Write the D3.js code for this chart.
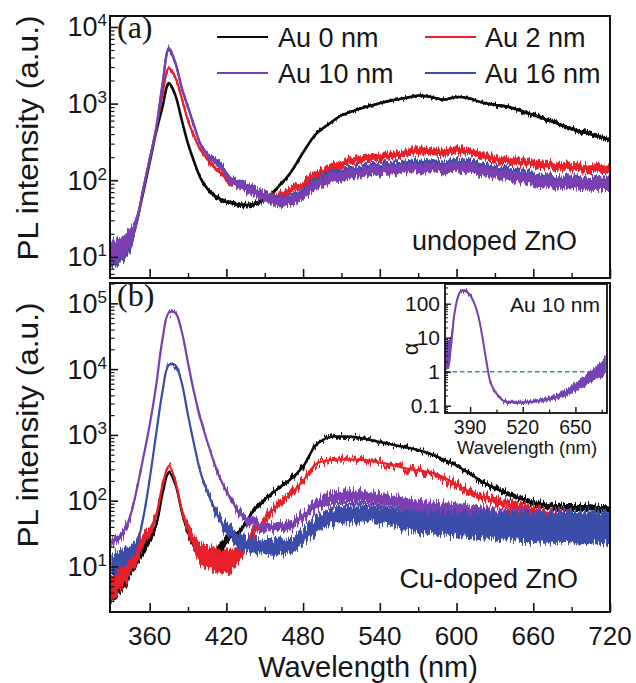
<!DOCTYPE html>
<html><head><meta charset="utf-8">
<script src="https://cdn.jsdelivr.net/npm/d3@7"></script>
<style>
body{margin:0;background:#fff}
svg{display:block}
text{font-family:"Liberation Sans",Arial,Helvetica,sans-serif;fill:#161616}
</style>
</head><body>
<svg id="c" width="636" height="683"></svg>
<script>
// ---------------- data ----------------
const wavelengths = [330,335,340,345,350,355,360,365,370,375,
  380,385,390,395,400,405,410,415,420,425,
  430,440,450,460,470,480,490,500,510,520,
  530,540,550,560,570,580,590,600,610,620,
  630,640,650,660,670,680,690,700,710,720];

// (a) undoped ZnO
const au0_a = [12,12,13,16,30,70,170,420,900,1850,
  1300,620,300,170,105,78,64,57,52,50,
  48,48,56,80,124,230,400,540,700,810,
  910,1010,1110,1180,1270,1220,1130,1220,1170,1030,
  960,910,810,710,620,540,470,420,380,335];
const au0_a_noise = [0.12,0.12,0.12,0.10,0.05,0.02,0.015,0.015,0.015,0.015,
  0.015,0.015,0.015,0.02,0.02,0.025,0.03,0.03,0.03,0.03,
  0.03,0.03,0.03,0.02,0.015,0.015,0.015,0.015,0.015,0.015,
  0.015,0.015,0.015,0.015,0.015,0.015,0.015,0.015,0.015,0.015,
  0.02,0.02,0.02,0.025,0.025,0.025,0.025,0.03,0.03,0.03];
const au2_a = [11,12,13,16,30,75,185,450,1300,2900,
  2200,1200,600,370,245,190,150,125,105,92,
  85,72,65,61,75,88,120,140,165,185,
  192,200,210,225,245,240,230,250,235,210,
  190,180,172,166,160,153,148,143,139,135];
const au2_a_noise = [0.12,0.12,0.12,0.10,0.05,0.02,0.02,0.02,0.02,0.02,
  0.025,0.025,0.025,0.025,0.025,0.03,0.03,0.03,0.035,0.035,
  0.04,0.04,0.045,0.05,0.05,0.05,0.05,0.05,0.05,0.05,
  0.05,0.05,0.05,0.05,0.05,0.05,0.05,0.05,0.05,0.05,
  0.05,0.05,0.05,0.05,0.05,0.055,0.055,0.055,0.06,0.06];
const au10_a = [12,12,14,18,30,78,190,470,1800,5300,
  3500,1650,900,500,290,220,180,150,120,98,
  86,72,60,52,54,64,88,104,115,124,
  130,135,138,142,148,146,142,150,145,132,
  124,116,108,100,96,93,92,90,88,87];
const au10_a_noise = [0.15,0.15,0.15,0.12,0.06,0.02,0.02,0.02,0.02,0.02,
  0.02,0.02,0.02,0.02,0.025,0.03,0.035,0.04,0.045,0.05,
  0.055,0.06,0.065,0.065,0.065,0.065,0.065,0.065,0.065,0.065,
  0.065,0.065,0.065,0.065,0.065,0.065,0.065,0.065,0.065,0.07,
  0.07,0.07,0.075,0.075,0.08,0.08,0.08,0.085,0.085,0.085];
const au16_a = [10,11,12,15,28,75,185,460,1700,5000,
  3400,1600,900,500,290,220,185,160,125,100,
  90,76,64,56,58,70,98,115,128,138,
  145,150,155,160,168,165,160,172,165,150,
  140,132,122,112,106,100,98,95,93,92];
const au16_a_noise = [0.14,0.14,0.14,0.10,0.05,0.02,0.02,0.02,0.02,0.02,
  0.02,0.02,0.02,0.02,0.025,0.03,0.035,0.04,0.04,0.04,
  0.045,0.05,0.05,0.055,0.055,0.055,0.055,0.055,0.055,0.055,
  0.055,0.055,0.055,0.055,0.055,0.055,0.055,0.055,0.055,0.055,
  0.06,0.06,0.06,0.06,0.065,0.065,0.07,0.07,0.07,0.07];

// (b) Cu-doped ZnO
const au0_b = [4.4,5.5,7,10,14,18,27,42,125,270,
  180,70,33,21,17,15,14,18,25,30,
  33,65,105,150,210,330,700,920,950,930,
  860,780,710,650,590,510,420,340,260,195,
  155,128,108,94,86,82,80,80,78,76];
const au0_b_noise = [0.2,0.2,0.2,0.18,0.15,0.1,0.08,0.05,0.03,0.02,
  0.03,0.04,0.08,0.1,0.12,0.12,0.12,0.1,0.08,0.06,
  0.05,0.04,0.04,0.03,0.03,0.03,0.02,0.02,0.02,0.02,
  0.02,0.02,0.02,0.02,0.02,0.02,0.025,0.025,0.03,0.03,
  0.035,0.035,0.04,0.04,0.04,0.04,0.045,0.045,0.045,0.045];
const au2_b = [4.5,6,8,11,15,24,36,60,170,340,
  200,75,36,22,16,14,13,12,12,13,
  15,30,52,85,125,200,360,410,420,420,
  410,380,350,310,290,268,225,175,135,115,
  100,90,80,72,66,62,60,58,58,58];
const au2_b_noise = [0.2,0.2,0.2,0.18,0.15,0.1,0.08,0.05,0.03,0.02,
  0.03,0.04,0.08,0.12,0.16,0.18,0.18,0.18,0.18,0.16,
  0.12,0.08,0.07,0.06,0.05,0.04,0.03,0.03,0.03,0.03,
  0.03,0.03,0.03,0.035,0.04,0.04,0.045,0.05,0.05,0.06,
  0.06,0.065,0.07,0.07,0.07,0.075,0.075,0.08,0.08,0.08];
const au10_b = [23,27,35,60,150,450,1400,5500,28000,72000,
  72000,38000,12500,4200,1700,800,400,220,140,95,
  66,47,40,39,43,58,85,105,112,114,
  112,105,96,88,80,74,70,66,62,56,
  52,50,48,46,45,44,44,43,42,42];
const au10_b_noise = [0.06,0.06,0.06,0.05,0.03,0.02,0.015,0.015,0.015,0.015,
  0.015,0.015,0.015,0.015,0.015,0.015,0.02,0.03,0.04,0.05,
  0.06,0.07,0.07,0.07,0.07,0.08,0.09,0.1,0.1,0.1,
  0.1,0.1,0.1,0.1,0.11,0.12,0.13,0.14,0.15,0.16,
  0.17,0.18,0.19,0.2,0.2,0.2,0.21,0.21,0.21,0.21];
const au16_b = [11,12,14,16,22,55,210,1000,4500,11500,
  11500,6300,2000,680,260,140,81,50,37,30,
  24,21,20,20,21,28,42,55,62,65,
  64,60,54,50,48,46,45,44,43,42,
  41,41,40,40,40,40,40,40,40,40];
const au16_b_noise = [0.15,0.15,0.15,0.12,0.08,0.03,0.02,0.015,0.015,0.015,
  0.015,0.015,0.015,0.02,0.02,0.04,0.06,0.08,0.1,0.11,
  0.12,0.12,0.12,0.12,0.12,0.12,0.13,0.13,0.13,0.13,
  0.13,0.14,0.14,0.15,0.16,0.17,0.18,0.19,0.2,0.21,
  0.22,0.22,0.23,0.23,0.24,0.24,0.25,0.25,0.25,0.25];

// inset: alpha for Au 10 nm
const inset_wl = [330,335,340,345,350,355,360,365,370,375,380,390,400,410,420,430,440,450,460,470,480,500,520,540,560,580,600,620,640,660,680,700,710,720,725];
const inset_alpha = [3,3,4,10,40,90,160,220,245,245,230,180,105,45,11,2.1,0.5,0.28,0.19,0.145,0.13,0.125,0.125,0.13,0.14,0.155,0.18,0.22,0.3,0.42,0.58,0.85,1.1,1.4,1.8];
const inset_noise = [0.45,0.45,0.4,0.25,0.1,0.05,0.04,0.04,0.04,0.04,0.04,0.04,0.04,0.04,0.04,0.04,0.04,0.04,0.04,0.045,0.05,0.05,0.05,0.055,0.06,0.07,0.08,0.1,0.12,0.14,0.17,0.2,0.22,0.25,0.28];

const seriesNames = ["Au 0 nm","Au 2 nm","Au 10 nm","Au 16 nm"];
const xTickLabels = [360,420,480,540,600,660,720];
const xMinorTicks = [390,450,510,570,630,690];
const yExpA = [1,2,3,4];
const yExpB = [1,2,3,4,5];
const insetXTicks = [390,520,650];
const insetXMinor = [455,585,715];
const insetYTicks = [0.1,1,10,100];

// ---------------- layout / style ----------------
const colors = {"Au 0 nm":"#0a0a0a","Au 2 nm":"#e8202a","Au 10 nm":"#7a40b2","Au 16 nm":"#3b4da8"};
const svg = d3.select("#c");
const defs = svg.append("defs");
const X0 = 110, X1 = 610;
const x = d3.scaleLinear().domain([329,720]).range([X0,X1]);
const yA = d3.scaleLog().domain([5.3,13900]).range([278,16]);
const yB = d3.scaleLog().domain([2.03,2.04e5]).range([612,283]);

function jitter(id, scale){
  const f = defs.append("filter").attr("id",id).attr("filterUnits","userSpaceOnUse")
    .attr("x",0).attr("y",0).attr("width",636).attr("height",683)
    .attr("color-interpolation-filters","sRGB");
  f.append("feTurbulence").attr("type","fractalNoise").attr("baseFrequency","0.6 0.02")
    .attr("numOctaves",2).attr("seed",7).attr("result","t");
  f.append("feColorMatrix").attr("in","t").attr("type","matrix")
    .attr("values","2.2 0 0 0 -0.6  0 0 0 0 0.5  0 0 0 0 0  0 0 0 0 1").attr("result","m");
  f.append("feDisplacementMap").attr("in","SourceGraphic").attr("in2","m").attr("scale",scale)
    .attr("xChannelSelector","G").attr("yChannelSelector","R");
}
jitter("j4",4); jitter("j6",6); jitter("j9",9);

function clip(id,x0,y0,w,h){
  defs.append("clipPath").attr("id",id).append("rect").attr("x",x0).attr("y",y0).attr("width",w).attr("height",h);
}
clip("cA",X0,16,X1-X0,262);
clip("cB",X0,283,X1-X0,329);
clip("cI",445,284,162,129);

// smooth centre line underneath, jittered noise band on top
function drawSeries(g, xs, ys, wl, vals, noise, color, filt, lw){
  const pts = wl.map((w,i)=>({w, v:vals[i], n:noise[i]}));
  const area = d3.area().x(d=>xs(d.w))
    .y0(d=>ys(d.v/Math.pow(10,d.n))).y1(d=>ys(d.v*Math.pow(10,d.n)))
    .curve(d3.curveCatmullRom);
  const line = d3.line().x(d=>xs(d.w)).y(d=>ys(d.v)).curve(d3.curveCatmullRom);
  const s = g.append("g");
  s.append("path").attr("d",line(pts)).attr("fill","none").attr("stroke",color)
    .attr("stroke-width",lw||2.2).attr("stroke-linejoin","round");
  s.append("path").attr("d",area(pts)).attr("fill",color).attr("filter", filt ? `url(#${filt})` : null);
}

function logMinors(lo,hi){
  const out=[];
  for(let e=Math.floor(Math.log10(lo))-1;e<=Math.ceil(Math.log10(hi));e++){
    for(let m=2;m<=9;m++){const v=m*Math.pow(10,e); if(v>=lo&&v<=hi) out.push(+v.toPrecision(3));}
  }
  return out;
}

function styleTicks(g,w){ g.select(".domain").remove(); g.selectAll("line").attr("stroke","#111").attr("stroke-width",w); }

function panelAxes(ys, top, bottom, exps, showXLabels, titleY){
  const dom = ys.domain();
  svg.append("g").attr("transform",`translate(0,${bottom})`)
    .call(d3.axisBottom(x).tickValues(xTickLabels).tickSize(-9).tickFormat(""))
    .call(g=>styleTicks(g,1.6));
  svg.append("g").attr("transform",`translate(0,${bottom})`)
    .call(d3.axisBottom(x).tickValues(xMinorTicks).tickSize(-5).tickFormat(""))
    .call(g=>styleTicks(g,1.4));
  svg.append("g").attr("transform",`translate(${X0},0)`)
    .call(d3.axisLeft(ys).tickValues(exps.map(e=>Math.pow(10,e))).tickSize(-8).tickFormat(""))
    .call(g=>styleTicks(g,1.6));
  svg.append("g").attr("transform",`translate(${X0},0)`)
    .call(d3.axisLeft(ys).tickValues(logMinors(dom[0],dom[1])).tickSize(-4.5).tickFormat(""))
    .call(g=>styleTicks(g,1.2));
  exps.forEach(e=>{
    const t = svg.append("text").attr("x",107).attr("y",ys(Math.pow(10,e))+9.5)
      .attr("text-anchor","end").attr("font-size",27);
    t.append("tspan").text("10");
    t.append("tspan").attr("dy",-10).attr("font-size",17).text(String(e));
  });
  svg.append("rect").attr("x",X0).attr("y",top).attr("width",X1-X0).attr("height",bottom-top)
    .attr("fill","none").attr("stroke","#111").attr("stroke-width",2);
  svg.append("text").attr("transform",`translate(38,${titleY}) rotate(-90)`)
    .attr("text-anchor","middle").attr("font-size",29).attr("textLength",245)
    .attr("lengthAdjust","spacingAndGlyphs").text("PL intensity (a.u.)");
  if(showXLabels){
    svg.selectAll(null).data(xTickLabels).enter().append("text")
      .attr("x",d=>x(d)).attr("y",645).attr("text-anchor","middle").attr("font-size",26).text(d=>d);
  }
}

// ---------------- panel (a) ----------------
const gA = svg.append("g").attr("clip-path","url(#cA)");
drawSeries(gA, x, yA, wavelengths, au0_a, au0_a_noise, colors["Au 0 nm"], "j4", 2.6);
drawSeries(gA, x, yA, wavelengths, au2_a, au2_a_noise, colors["Au 2 nm"], "j6");
drawSeries(gA, x, yA, wavelengths, au16_a, au16_a_noise, colors["Au 16 nm"], "j6");
drawSeries(gA, x, yA, wavelengths, au10_a, au10_a_noise, colors["Au 10 nm"], "j6");
panelAxes(yA, 16, 278, yExpA, false, 138);

// ---------------- panel (b) ----------------
const gB = svg.append("g").attr("clip-path","url(#cB)");
drawSeries(gB, x, yB, wavelengths, au0_b, au0_b_noise, colors["Au 0 nm"], "j6", 2.4);
drawSeries(gB, x, yB, wavelengths, au2_b, au2_b_noise, colors["Au 2 nm"], "j9");
drawSeries(gB, x, yB, wavelengths, au10_b, au10_b_noise, colors["Au 10 nm"], "j9");
drawSeries(gB, x, yB, wavelengths, au16_b, au16_b_noise, colors["Au 16 nm"], "j9");
panelAxes(yB, 283, 612, yExpB, true, 425);

svg.append("text").attr("x",368).attr("y",677).attr("text-anchor","middle").attr("font-size",29).text("Wavelength (nm)");

svg.append("text").attr("x",117).attr("y",38)
  .style("font-family","'Liberation Serif','Times New Roman',serif").attr("font-size",32).text("(a)");
svg.append("text").attr("x",117).attr("y",306)
  .style("font-family","'Liberation Serif','Times New Roman',serif").attr("font-size",32).text("(b)");

svg.append("text").attr("x",577).attr("y",250).attr("text-anchor","end").attr("font-size",27).text("undoped ZnO");
svg.append("text").attr("x",578).attr("y",588).attr("text-anchor","end").attr("font-size",27).text("Cu-doped ZnO");

const legPos = [{lx:217,tx:278,y:37},{lx:425,tx:485,y:37},{lx:217,tx:278,y:73},{lx:425,tx:485,y:73}];
seriesNames.forEach((n,i)=>{
  const p = legPos[i];
  svg.append("line").attr("x1",p.lx).attr("x2",p.lx+51).attr("y1",p.y).attr("y2",p.y)
    .attr("stroke",colors[n]).attr("stroke-width",2);
  svg.append("text").attr("x",p.tx).attr("y",p.y+10).attr("font-size",27).text(n);
});

// ---------------- inset ----------------
const xi = d3.scaleLinear().domain([328,728]).range([445,607]);
const yi = d3.scaleLog().domain([0.061,380]).range([413,284]);
svg.append("rect").attr("x",445).attr("y",284).attr("width",162).attr("height",129).attr("fill","#fff");
const gI = svg.append("g").attr("clip-path","url(#cI)");
gI.append("line").attr("x1",445).attr("x2",607).attr("y1",yi(1)).attr("y2",yi(1))
  .attr("stroke","#3c8c86").attr("stroke-width",1.5).attr("stroke-dasharray","4.5,3");
drawSeries(gI, xi, yi, inset_wl, inset_alpha, inset_noise, "#7444b2", "j4", 2);
svg.append("g").attr("transform","translate(0,413)")
  .call(d3.axisBottom(xi).tickValues(insetXTicks).tickSize(-6).tickFormat(""))
  .call(g=>styleTicks(g,1.4));
svg.append("g").attr("transform","translate(0,413)")
  .call(d3.axisBottom(xi).tickValues(insetXMinor).tickSize(-3.5).tickFormat(""))
  .call(g=>styleTicks(g,1.2));
svg.append("g").attr("transform","translate(445,0)")
  .call(d3.axisLeft(yi).tickValues(insetYTicks).tickSize(-6).tickFormat(""))
  .call(g=>styleTicks(g,1.4));
svg.append("g").attr("transform","translate(445,0)")
  .call(d3.axisLeft(yi).tickValues(logMinors(0.061,380)).tickSize(-3).tickFormat(""))
  .call(g=>styleTicks(g,1));
svg.append("rect").attr("x",445).attr("y",284).attr("width",162).attr("height",129)
  .attr("fill","none").attr("stroke","#111").attr("stroke-width",1.8);
svg.selectAll(null).data(insetYTicks).enter().append("text")
  .attr("x",440).attr("y",d=>yi(d)+7.5).attr("text-anchor","end").attr("font-size",21).text(d=>d);
svg.selectAll(null).data(insetXTicks).enter().append("text")
  .attr("x",d=>xi(d)).attr("y",434).attr("text-anchor","middle").attr("font-size",19.5).text(d=>d);
svg.append("text").attr("x",527).attr("y",454).attr("text-anchor","middle").attr("font-size",18.5).text("Wavelength (nm)");
svg.append("text").attr("transform","translate(418,349) rotate(-90)").attr("text-anchor","middle")
  .attr("font-size",22).text("α");
svg.append("text").attr("x",600).attr("y",312).attr("text-anchor","end").attr("font-size",21).text("Au 10 nm");
</script>
</body></html>
